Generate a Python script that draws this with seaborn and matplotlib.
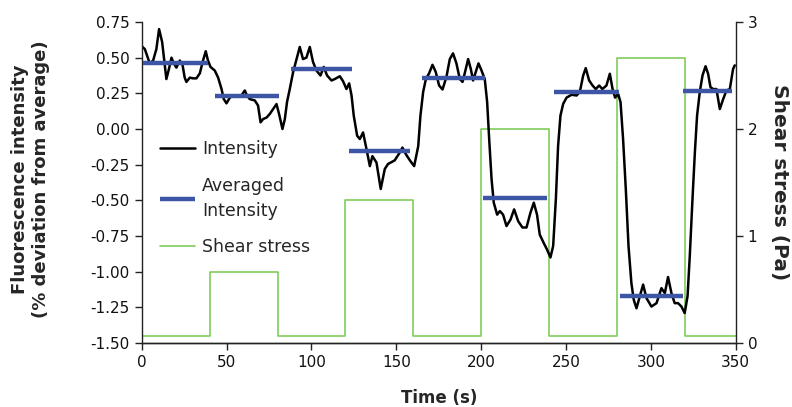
import matplotlib
matplotlib.use("Agg")
import matplotlib.pyplot as plt
import seaborn as sns
import pandas as pd

# ---- data ----
time_s = [0, 1.8, 4.7, 6.7, 8.6, 10.2, 12, 13.5, 14.5, 16, 17.5, 18.9, 20.4, 22.4, 24, 25.3, 26.3,
          28.3, 30.2, 32.2, 34.2, 36.1, 37.7, 39, 40.5, 43, 45, 47, 48.3, 49.9, 51.9, 53.8, 56.8,
          58.7, 60.7, 62, 63.6, 66.6, 68.5, 70, 71.5, 73.5, 75.4, 77.4, 79.4, 80.9, 82.9, 84.3,
          85.6, 87.2, 89.2, 91.2, 93.1, 95, 97, 99, 100.9, 102.9, 105.3, 107.2, 109.2, 111.8,
          113.7, 116.7, 118.6, 120.6, 122.2, 123.6, 124.9, 126.9, 128.5, 130.4, 132.4, 134.4,
          135.9, 138.3, 140.8, 143.2, 145.1, 149, 152, 153.6, 155.6, 158, 160.5, 162.9, 164.2,
          165.8, 167.4, 169.3, 171.3, 173.2, 175.2, 177.2, 179.5, 181.5, 183.4, 185.4, 187.4,
          189, 190.5, 192.3, 193.9, 195.2, 196.8, 198.4, 200.2, 202.1, 203.5, 204.7, 206.1,
          207.4, 209.4, 211, 212.9, 214.9, 217.3, 219.4, 221.8, 224.3, 226.7, 229, 231, 232.9,
          234.5, 236.9, 238.8, 240.8, 242.4, 244, 245.3, 246.7, 248.3, 250.3, 253.2, 256.2,
          258.1, 260.1, 261.6, 263.6, 265.6, 267.5, 269.5, 271.4, 273.8, 275.8, 277.4, 278.9,
          280.7, 282.1, 283.6, 285.2, 286.8, 288.5, 289.9, 291.5, 293.5, 295.4, 297.4, 300.3,
          303.3, 306.2, 308.2, 310.1, 312.1, 314, 316, 318, 319.9, 321.6, 322.9, 324.5, 325.9,
          327.2, 328.8, 330.4, 332.2, 333.7, 335.1, 336.7, 338.6, 340.6, 342.6, 344.5, 346.5,
          348.4, 349.4]
intensity = [0.58, 0.56, 0.46, 0.48, 0.56, 0.70, 0.61, 0.45, 0.35, 0.42, 0.50, 0.46, 0.43, 0.48,
             0.45, 0.36, 0.33, 0.36, 0.355, 0.355, 0.39, 0.48, 0.545, 0.48, 0.435, 0.41, 0.36,
             0.28, 0.21, 0.18, 0.22, 0.235, 0.235, 0.235, 0.27, 0.235, 0.21, 0.20, 0.165, 0.047,
             0.07, 0.08, 0.105, 0.14, 0.175, 0.105, 0.0, 0.07, 0.19, 0.28, 0.40, 0.49, 0.575,
             0.49, 0.50, 0.575, 0.47, 0.41, 0.375, 0.435, 0.375, 0.34, 0.35, 0.37, 0.335, 0.28,
             0.32, 0.235, 0.094, -0.047, -0.07, -0.024, -0.14, -0.26, -0.19, -0.235, -0.42,
             -0.28, -0.245, -0.22, -0.165, -0.13, -0.176, -0.22, -0.26, -0.12, 0.094, 0.26,
             0.35, 0.39, 0.45, 0.40, 0.305, 0.277, 0.364, 0.49, 0.53, 0.46, 0.35, 0.33, 0.40,
             0.49, 0.42, 0.34, 0.40, 0.46, 0.41, 0.35, 0.19, -0.07, -0.35, -0.516, -0.60,
             -0.575, -0.60, -0.68, -0.634, -0.563, -0.646, -0.69, -0.69, -0.587, -0.516, -0.60,
             -0.74, -0.80, -0.845, -0.90, -0.82, -0.49, -0.12, 0.094, 0.176, 0.22, 0.24, 0.235,
             0.26, 0.375, 0.427, 0.34, 0.305, 0.28, 0.305, 0.28, 0.305, 0.387, 0.28, 0.22,
             0.246, 0.188, -0.07, -0.42, -0.82, -1.08, -1.197, -1.256, -1.17, -1.09, -1.185,
             -1.244, -1.22, -1.115, -1.15, -1.037, -1.15, -1.22, -1.22, -1.244, -1.29, -1.17,
             -0.89, -0.49, -0.164, 0.094, 0.26, 0.375, 0.44, 0.387, 0.293, 0.28, 0.28, 0.14,
             0.21, 0.27, 0.28, 0.42, 0.446]

avg_start = [1, 43, 88, 122, 165, 201, 243, 282, 319]
avg_end = [39, 81, 124, 158, 202, 239, 281, 319, 348]
avg_value = [0.465, 0.228, 0.42, -0.155, 0.36, -0.486, 0.258, -1.17, 0.265]

shear_time = [0, 40, 80, 120, 160, 200, 240, 280, 320, 350]
shear_pa = [0.067, 0.667, 0.067, 1.333, 0.067, 2.0, 0.067, 2.667, 0.067, 0.067]

x_ticks = [0, 50, 100, 150, 200, 250, 300, 350]
y_ticks = [0.75, 0.50, 0.25, 0.00, -0.25, -0.50, -0.75, -1.00, -1.25, -1.50]
y2_ticks = [0, 1, 2, 3]

# ---- style ----
sns.set_style("ticks")
plt.rcParams["font.family"] = ["DejaVu Sans"]

BLACK = "#000000"
BLUE = "#3c55a5"
GREEN = "#80cc5c"

fig = plt.figure(figsize=(7.92, 4.07), dpi=100)
ax = fig.add_axes([0.179, 0.157, 0.750, 0.789])
ax2 = ax.twinx()

df_int = pd.DataFrame({"t": time_s, "v": intensity})
df_sh = pd.DataFrame({"t": shear_time, "p": shear_pa})

sns.lineplot(data=df_sh, x="t", y="p", ax=ax2, color=GREEN, lw=1.2,
             drawstyle="steps-post", label="Shear stress", legend=False)
sns.lineplot(data=df_int, x="t", y="v", ax=ax, color=BLACK, lw=1.8,
             label="Intensity", legend=False, sort=False)
ax.hlines(avg_value, avg_start, avg_end, colors=BLUE, lw=3.2, label="Averaged\nIntensity",
          zorder=3)

ax.set_zorder(ax2.get_zorder() + 1)
ax.patch.set_visible(False)

ax.set_xlim(0, 350)
ax.set_ylim(-1.5, 0.75)
ax2.set_ylim(0, 3)
ax.set_xticks(x_ticks)
ax.set_yticks(y_ticks)
ax.set_yticklabels([f"{v:.2f}" for v in y_ticks])
ax2.set_yticks(y2_ticks)

for a in (ax, ax2):
    a.spines["top"].set_visible(False)
    for s in a.spines.values():
        s.set_color("#222222")
        s.set_linewidth(1.0)
    a.tick_params(axis="both", length=5, width=1.0, labelsize=11, colors="#222222",
                  labelcolor="#111111", direction="out")
ax2.spines["left"].set_visible(False)
ax.spines["right"].set_visible(False)

ax.set_xlabel("Time (s)", fontsize=12, fontweight="bold", labelpad=14)
ax.set_ylabel("Fluorescence intensity\n(% deviation from average)", fontsize=13,
              fontweight="bold", linespacing=1.2, va="center", ha="center")
ax.yaxis.set_label_coords(-0.187, 0.51)
ax2.set_ylabel("Shear stress (Pa)", fontsize=14.5, fontweight="bold", rotation=270,
               va="center", ha="center")
ax2.yaxis.set_label_coords(1.074, 0.5)

h1, l1 = ax.get_legend_handles_labels()
h2, l2 = ax2.get_legend_handles_labels()
handles = {**dict(zip(l1, h1)), **dict(zip(l2, h2))}
order = ["Intensity", "Averaged\nIntensity", "Shear stress"]
leg = ax.legend([handles[k] for k in order], order, loc="upper left",
                bbox_to_anchor=(0.005, 0.68), frameon=False, fontsize=12.5,
                handlelength=2.0, handletextpad=0.4, labelspacing=1.05)
for t in leg.get_texts():
    t.set_linespacing(1.5)

fig.savefig("out.png", dpi=100)
